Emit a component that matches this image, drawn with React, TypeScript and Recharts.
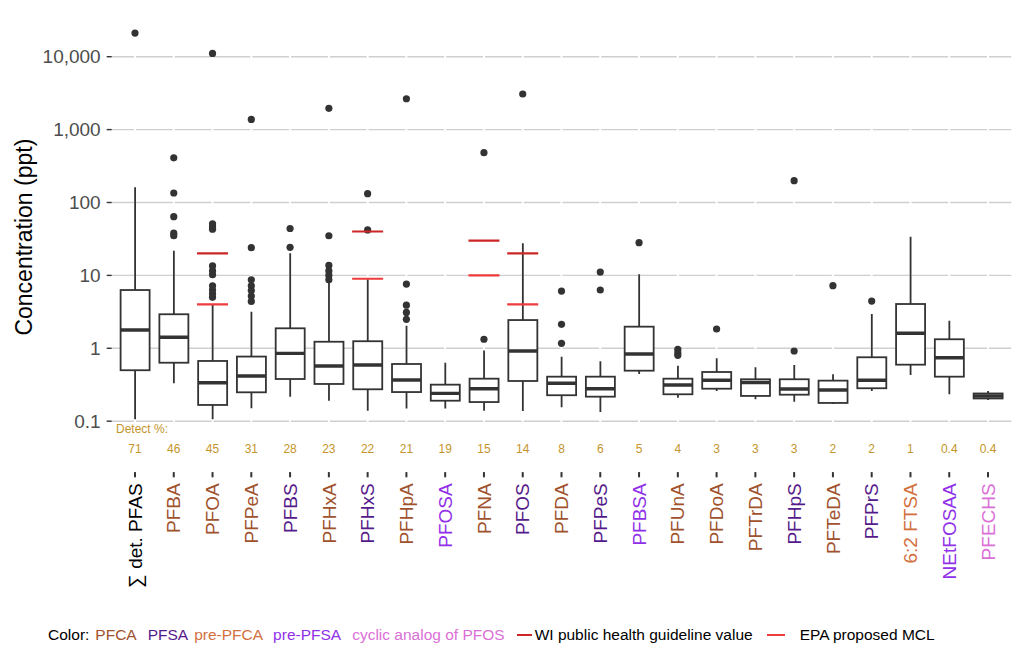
import { ComposedChart, Bar, Scatter, XAxis, YAxis, CartesianGrid } from "recharts";

const categories = [
  "∑ det. PFAS", "PFBA", "PFOA", "PFPeA", "PFBS", "PFHxA", "PFHxS", "PFHpA",
  "PFOSA", "PFNA", "PFOS", "PFDA", "PFPeS", "PFBSA", "PFUnA", "PFDoA",
  "PFTrDA", "PFHpS", "PFTeDA", "PFPrS", "6:2 FTSA", "NEtFOSAA", "PFECHS",
];

const groups = [
  "total", "PFCA", "PFCA", "PFCA", "PFSA", "PFCA", "PFSA", "PFCA",
  "pre-PFSA", "PFCA", "PFSA", "PFCA", "PFSA", "pre-PFSA", "PFCA", "PFCA",
  "PFCA", "PFSA", "PFCA", "PFSA", "pre-PFCA", "pre-PFSA", "cyclic",
];

const detectPct = [
  "71", "46", "45", "31", "28", "23", "22", "21", "19", "15", "14", "8",
  "6", "5", "4", "3", "3", "3", "2", "2", "1", "0.4", "0.4",
];

// box plot stats (ppt)
const whiskerLow = [0.106, 0.331, 0.106, 0.15, 0.217, 0.191, 0.139, 0.149, 0.149, 0.139, 0.138, 0.155, 0.134, 0.444, 0.21, 0.26, 0.2, 0.185, 0.172, 0.26, 0.43, 0.234, 0.196];
const q1 = [0.5, 0.634, 0.167, 0.249, 0.379, 0.324, 0.274, 0.251, 0.191, 0.183, 0.356, 0.227, 0.217, 0.493, 0.234, 0.279, 0.222, 0.231, 0.178, 0.283, 0.596, 0.408, 0.205];
const median = [1.78, 1.42, 0.337, 0.417, 0.853, 0.572, 0.59, 0.367, 0.241, 0.279, 0.918, 0.331, 0.279, 0.835, 0.314, 0.364, 0.34, 0.277, 0.268, 0.364, 1.61, 0.743, 0.222];
const q3 = [6.3, 2.93, 0.67, 0.77, 1.88, 1.23, 1.25, 0.609, 0.317, 0.383, 2.44, 0.408, 0.408, 1.98, 0.383, 0.473, 0.376, 0.376, 0.36, 0.753, 4.05, 1.33, 0.24];
const whiskerHigh = [162, 21.8, 4.0, 3.18, 20.1, 8.0, 8.84, 2.04, 0.634, 0.93, 27.6, 0.767, 0.663, 10.4, 0.578, 0.729, 0.549, 0.59, 0.44, 2.95, 34, 2.39, 0.26];

const outliers = [
  [21100],
  [410, 135, 64, 38, 35],
  [11100, 51, 47, 43, 13.5, 11.5, 10.2, 7.2, 6.3, 5.6, 5.0],
  [1380, 24, 8.7, 7.2, 6.2, 5.2, 4.4],
  [44, 24.3],
  [1960, 35, 13.7, 11.5, 10, 8.7],
  [132, 42],
  [2650, 7.6, 3.9, 3.1, 2.5],
  [],
  [482, 1.33],
  [3080],
  [6.1, 2.13, 1.17],
  [11.1, 6.3],
  [28.1],
  [0.97, 0.87, 0.8],
  [1.84],
  [],
  [199, 0.918],
  [7.22],
  [4.45],
  [],
  [],
  [],
];

const wiGuideline = [null, null, 20, null, null, null, 40, null, null, 30, 20, null, null, null, null, null, null, null, null, null, null, null, null];
const epaMcl = [null, null, 4, null, null, null, 9, null, null, 10, 4, null, null, null, null, null, null, null, null, null, null, null, null];

const yTicks = [0.1, 1, 10, 100, 1000, 10000];

const groupColor: Record<string, string> = {
  total: "#000000",
  PFCA: "#A0522D",
  PFSA: "#551A8B",
  "pre-PFCA": "#D2703E",
  "pre-PFSA": "#9030E8",
  cyclic: "#DA70D6",
};

const FONT = '"Liberation Sans", Arial, Helvetica, sans-serif';
const INK = "#333333";
const GOLD = "#C4952B";
const WI_RED = "#CD2626";
const EPA_RED = "#EE3B3B";
const BOX_W = 29;

const rows = categories.map((name, i) => ({
  name,
  whisker: [whiskerLow[i], whiskerHigh[i]],
  box: [q1[i], q3[i]],
  median: median[i],
}));

const outlierPoints = outliers.flatMap((vals, i) =>
  vals.map((v) => ({ name: categories[i], v }))
);
const wiPoints = categories
  .map((name, i) => ({ name, v: wiGuideline[i] }))
  .filter((d) => d.v != null);
const epaPoints = categories
  .map((name, i) => ({ name, v: epaMcl[i] }))
  .filter((d) => d.v != null);

function BoxShape(props: any) {
  const { x, y, width, height } = props;
  return <rect x={x} y={y} width={width} height={height} fill="#ffffff" stroke={INK} strokeWidth={1.8} />;
}

function WhiskerShape(props: any) {
  const { x, y, width, height } = props;
  const cx = x + width / 2;
  return <line x1={cx} x2={cx} y1={y} y2={y + height} stroke={INK} strokeWidth={1.8} />;
}

function MedianShape(props: any) {
  const { cx, cy } = props;
  return <line x1={cx - BOX_W / 2} x2={cx + BOX_W / 2} y1={cy} y2={cy} stroke={INK} strokeWidth={3.4} />;
}

function OutlierShape(props: any) {
  const { cx, cy } = props;
  return <circle cx={cx} cy={cy} r={3.6} fill={INK} />;
}

const guideShape = (color: string) => (props: any) => {
  const { cx, cy } = props;
  return <line x1={cx - 15.5} x2={cx + 15.5} y1={cy} y2={cy} stroke={color} strokeWidth={2.2} />;
};

function CategoryTick(props: any) {
  const { x, y, payload } = props;
  const i = categories.indexOf(payload.value);
  return (
    <g fontFamily={FONT}>
      {i === 0 && (
        <text x={x - 19} y={y - 9.5} fontSize={12} fill={GOLD} dominantBaseline="central">
          Detect %:
        </text>
      )}
      <text x={x} y={y + 10.7} textAnchor="middle" dominantBaseline="central" fontSize={12} fill={GOLD}>
        {detectPct[i]}
      </text>
      <line x1={x} x2={x} y1={y + 33.5} y2={y + 38.7} stroke={INK} strokeWidth={2} />
      <text
        transform={`translate(${x},${y + 44.7}) rotate(-90)`}
        textAnchor="end"
        dy="0.35em"
        fontSize={19}
        fill={groupColor[groups[i]]}
      >
        {payload.value}
      </text>
    </g>
  );
}

function AxisTitle(props: any) {
  const { viewBox } = props;
  const x = viewBox.x + 12;
  const y = viewBox.y + viewBox.height / 2 + 11;
  return (
    <text
      transform={`translate(${x},${y}) rotate(-90)`}
      textAnchor="middle"
      dominantBaseline="central"
      fontSize={23}
      fontFamily={FONT}
      fill="#000"
    >
      Concentration (ppt)
    </text>
  );
}

const legendGroups = [
  { label: "PFCA", color: groupColor.PFCA, gap: 11 },
  { label: "PFSA", color: groupColor.PFSA, gap: 6 },
  { label: "pre-PFCA", color: groupColor["pre-PFCA"], gap: 10 },
  { label: "pre-PFSA", color: groupColor["pre-PFSA"], gap: 11 },
  { label: "cyclic analog of PFOS", color: groupColor.cyclic, gap: 12 },
];

function LegendRow() {
  return (
    <div
      style={{
        position: "absolute",
        left: 48,
        top: 625,
        display: "flex",
        alignItems: "center",
        fontFamily: FONT,
        fontSize: 15.5,
        lineHeight: "20px",
        whiteSpace: "nowrap",
      }}
    >
      <span style={{ marginRight: 6 }}>Color:</span>
      {legendGroups.map((g) => (
        <span key={g.label} style={{ color: g.color, marginRight: g.gap }}>
          {g.label}
        </span>
      ))}
      <span style={{ display: "inline-block", width: 15, height: 2.6, background: WI_RED, marginRight: 3 }} />
      <span style={{ marginRight: 14 }}>WI public health guideline value</span>
      <span style={{ display: "inline-block", width: 18, height: 2.6, background: EPA_RED, marginRight: 15 }} />
      <span>EPA proposed MCL</span>
    </div>
  );
}

export default function App() {
  return (
    <div style={{ position: "relative", width: 1024, height: 659, background: "#fff" }}>
      <style>{"body{margin:0}"}</style>
      <ComposedChart
        width={1024}
        height={659}
        data={rows}
        margin={{ top: 13.7, right: 12.7, bottom: 40.4, left: 11.7 }}
      >
        <CartesianGrid vertical={false} syncWithTicks stroke="#CFCFCF" strokeWidth={1.4} />
        <CartesianGrid horizontal={false} syncWithTicks stroke="#FFFFFF" strokeWidth={2} />
        <XAxis
          dataKey="name"
          type="category"
          allowDuplicatedCategory={false}
          height={180}
          padding={{ left: 3.9, right: 3.9 }}
          axisLine={false}
          tickLine={false}
          tickSize={0}
          tickMargin={0}
          interval={0}
          tick={<CategoryTick />}
        />
        <XAxis
          xAxisId="w"
          dataKey="name"
          type="category"
          allowDuplicatedCategory={false}
          padding={{ left: 3.9, right: 3.9 }}
          hide
        />
        <YAxis
          type="number"
          scale="log"
          domain={[0.0577, 38900]}
          allowDataOverflow
          ticks={yTicks}
          width={100}
          axisLine={false}
          tickLine={{ stroke: INK, strokeWidth: 1.4 }}
          tickSize={5}
          tickMargin={6}
          tick={{ fill: "#4D4D4D", fontSize: 19, fontFamily: FONT }}
          tickFormatter={(v: number) => v.toLocaleString("en-US")}
          label={<AxisTitle />}
        />
        <Bar xAxisId="w" dataKey="whisker" barSize={BOX_W} shape={<WhiskerShape />} isAnimationActive={false} />
        <Bar dataKey="box" barSize={BOX_W} shape={<BoxShape />} isAnimationActive={false} />
        <Scatter dataKey="median" shape={<MedianShape />} isAnimationActive={false} />
        <Scatter data={outlierPoints} dataKey="v" shape={<OutlierShape />} isAnimationActive={false} />
        <Scatter data={wiPoints} dataKey="v" shape={guideShape(WI_RED)} isAnimationActive={false} />
        <Scatter data={epaPoints} dataKey="v" shape={guideShape(EPA_RED)} isAnimationActive={false} />
      </ComposedChart>
      <LegendRow />
    </div>
  );
}
